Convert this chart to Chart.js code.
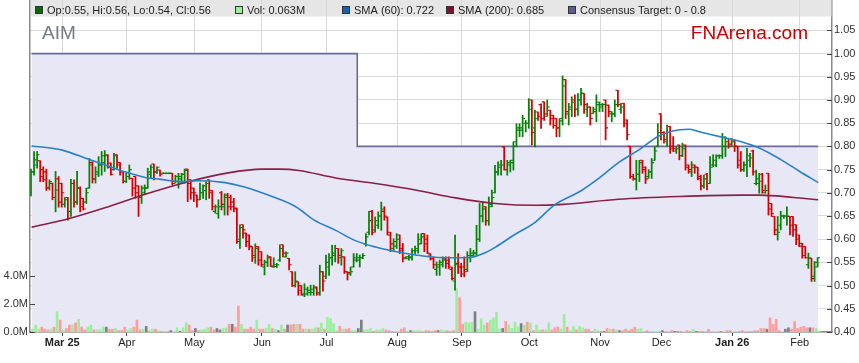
<!DOCTYPE html>
<html>
<head>
<meta charset="utf-8">
<script src="https://cdn.jsdelivr.net/npm/chart.js@4.4.1/dist/chart.umd.min.js"></script>
<style>
  html, body { margin: 0; padding: 0; background: #fff; }
</style>
</head>
<body>
<canvas id="aimChart" width="859" height="363"></canvas>
<script>
// weekday slots from 17 Feb 2025, ticks at first weekday of each month
const startDate = '2025-02-17';
const slotCount = 261;
const monthLabels = ['Mar 25', 'Apr', 'May', 'Jun', 'Jul', 'Aug', 'Sep', 'Oct', 'Nov', 'Dec', 'Jan 26', 'Feb'];

const opens = [
  .700,.745,.760,.769,.750,.745,.712,.720,.690,.730, .720,.675,.690,.660,.720,.680,.710,.688,.680,.710,
  .765,.730,.740,.760,.765,.782,.764,.750,.782,.765, .746,.725,.735,.731,.735,.715,.690,.700,.710,.740,
  .762,.745,.749,.742,.742,.742,.742,.725,.725,.730, .740,.751,.728,.710,.695,.685,.700,.705,.728,.705,
  .660,.655,.700,.670,.695,.690,.680,.667,.600,.631, .613,.609,.584,.560,.584,.573,.540,.550,.562,.540,
  .541,.555,.588,.562,.559,.530,.500,.508,.500,.480, .482,.485,.485,.497,.485,.530,.520,.540,.560,.565,
  .580,.560,.562,.530,.525,.540,.555,.555,.560,.590, .615,.660,.620,.630,.650,.660,.648,.609,.580,.585,
  .609,.580,.558,.558,.560,.575,.575,.590,.612,.600, .566,.558,.535,.540,.545,.558,.555,.535,.510,.548,
  .540,.540,.535,.560,.565,.570,.600,.650,.670,.640, .670,.700,.745,.755,.799,.750,.760,.765,.810,.835,
  .835,.850,.850,.900,.840,.874,.890,.896,.865,.878, .867,.860,.840,.860,.944,.870,.880,.900,.880,.900,
  .914,.880,.885,.871,.875,.890,.885,.900,.889,.870, .870,.921,.880,.893,.857,.800,.735,.730,.740,.770,
  .755,.735,.745,.770,.800,.870,.830,.810,.843,.800, .790,.803,.780,.803,.760,.745,.760,.755,.735,.715,
  .740,.720,.760,.760,.780,.780,.800,.817,.800,.814, .800,.770,.750,.760,.770,.790,.720,.720,.740,.700,
  .742,.677,.649,.610,.630,.650,.650,.649,.649,.631, .609,.591,.584,.545,.559,.520,.550
];
const highs = [
  .751,.789,.789,.769,.756,.751,.728,.721,.746,.735, .721,.690,.690,.729,.728,.746,.713,.688,.710,.774,
  .767,.756,.778,.789,.791,.782,.764,.785,.782,.765, .746,.742,.760,.731,.735,.715,.715,.717,.753,.760,
  .762,.756,.749,.743,.743,.743,.742,.738,.742,.742, .751,.751,.728,.710,.695,.721,.717,.724,.728,.705,
  .674,.685,.703,.698,.699,.695,.688,.667,.631,.631, .613,.609,.584,.590,.584,.573,.555,.566,.562,.560,
  .548,.588,.588,.573,.559,.530,.530,.508,.500,.504, .497,.501,.501,.497,.544,.530,.566,.569,.587,.587,
  .580,.580,.562,.530,.540,.569,.569,.566,.569,.612, .660,.662,.648,.659,.680,.670,.648,.615,.601,.612,
  .609,.591,.562,.565,.580,.585,.612,.612,.612,.609, .569,.562,.551,.555,.562,.562,.562,.540,.609,.569,
  .548,.562,.573,.580,.576,.630,.677,.680,.670,.691, .706,.759,.767,.770,.799,.770,.770,.810,.849,.849,
  .867,.856,.903,.900,.878,.874,.892,.896,.900,.878, .867,.860,.860,.952,.944,.893,.907,.911,.914,.925,
  .914,.893,.885,.885,.911,.896,.893,.900,.889,.875, .900,.921,.893,.893,.857,.800,.740,.770,.770,.770,
  .756,.750,.774,.799,.849,.870,.832,.846,.843,.821, .800,.803,.807,.803,.760,.767,.760,.755,.738,.738,
  .742,.778,.782,.782,.782,.828,.821,.817,.817,.814, .800,.789,.767,.796,.785,.792,.749,.742,.742,.717,
  .742,.677,.649,.649,.660,.652,.670,.649,.649,.631, .609,.591,.584,.570,.559,.552,.560
];
const lows = [
  .693,.738,.753,.724,.724,.705,.706,.685,.659,.669, .669,.669,.641,.649,.669,.675,.659,.663,.677,.710,
  .721,.721,.735,.738,.746,.753,.738,.749,.753,.738, .721,.722,.729,.693,.688,.649,.677,.698,.710,.731,
  .728,.742,.736,.741,.741,.741,.717,.721,.710,.721, .721,.681,.686,.681,.669,.685,.688,.685,.688,.663,
  .656,.645,.663,.652,.652,.663,.659,.591,.580,.602, .584,.577,.552,.548,.544,.541,.523,.541,.541,.539,
  .539,.552,.562,.562,.534,.498,.497,.479,.479,.476, .479,.479,.479,.479,.479,.488,.515,.522,.544,.551,
  .548,.544,.526,.512,.522,.540,.551,.540,.558,.585, .609,.609,.615,.623,.619,.641,.609,.573,.573,.580,
  .569,.551,.558,.555,.555,.568,.570,.590,.573,.569, .555,.537,.522,.522,.540,.537,.537,.512,.490,.526,
  .519,.519,.530,.551,.562,.565,.595,.637,.630,.630, .670,.700,.738,.738,.749,.738,.745,.749,.799,.821,
  .821,.831,.839,.803,.799,.856,.839,.856,.865,.846, .839,.821,.821,.846,.860,.846,.864,.864,.867,.889,
  .871,.864,.846,.871,.853,.875,.875,.814,.864,.853, .864,.885,.871,.842,.814,.731,.727,.706,.724,.742,
  .720,.731,.731,.770,.799,.814,.807,.800,.785,.789, .785,.771,.778,.749,.742,.735,.742,.728,.706,.710,
  .706,.720,.756,.756,.774,.774,.778,.796,.800,.789, .753,.746,.746,.735,.756,.738,.717,.699,.699,.699,
  .652,.649,.609,.598,.620,.645,.630,.609,.606,.588, .584,.559,.559,.537,.509,.509,.540
];
const closes = [
  .745,.771,.782,.735,.728,.710,.724,.690,.706,.680, .700,.685,.645,.720,.680,.710,.670,.665,.700,.760,
  .730,.745,.760,.780,.780,.755,.740,.780,.760,.745, .725,.735,.750,.710,.700,.690,.710,.710,.745,.755,
  .745,.755,.740,.742,.742,.742,.720,.735,.735,.740, .748,.720,.700,.700,.685,.700,.715,.720,.700,.670,
  .670,.670,.675,.690,.670,.670,.665,.595,.625,.620, .595,.585,.565,.580,.555,.545,.550,.560,.542,.545,
  .545,.580,.570,.570,.545,.500,.510,.490,.482,.492, .490,.492,.495,.482,.530,.510,.550,.560,.570,.580,
  .565,.575,.530,.528,.530,.560,.560,.560,.565,.605, .640,.615,.640,.650,.665,.650,.615,.590,.595,.600,
  .575,.560,.562,.562,.575,.580,.600,.605,.590,.570, .558,.545,.545,.550,.555,.548,.540,.515,.545,.540,
  .525,.530,.565,.570,.570,.600,.650,.665,.640,.675, .690,.745,.760,.760,.750,.765,.770,.800,.840,.840,
  .860,.850,.880,.830,.860,.865,.860,.870,.885,.860, .845,.840,.855,.930,.875,.885,.895,.880,.900,.915,
  .890,.885,.860,.880,.895,.890,.890,.840,.875,.870, .890,.890,.885,.850,.825,.735,.730,.740,.765,.750,
  .730,.745,.765,.790,.830,.830,.815,.830,.795,.795, .795,.780,.795,.755,.750,.755,.755,.730,.715,.730,
  .720,.755,.770,.780,.780,.820,.810,.805,.810,.800, .760,.750,.760,.780,.775,.745,.730,.725,.705,.705,
  .665,.655,.620,.615,.650,.650,.650,.630,.620,.600, .585,.565,.560,.560,.515,.540,.560
];
// volume in millions of shares
const volumes = [
  .2,.5,.2,.35,.2,.15,.2,.35,1.45,.85, .15,.25,.5,.5,.65,.9,.35,.15,.35,.5,
  .15,.15,.15,.35,.35,.2,.2,.25,.1,.1, .35,.15,.25,.35,.85,.15,.2,.4,.1,.2,
  .2,.1,.05,.05,0,.1,0,.3,.05,.3, .65,.5,.1,.25,.1,.15,.2,.3,.35,.15,
  .25,.15,.25,.3,.55,.55,.35,1.85,.55,.2, .2,.35,.2,.85,.2,.2,.25,.55,.25,.2,
  .1,.5,.2,.5,.5,.55,.55,.55,.2,.2, .2,.2,.3,.3,.65,.2,1.05,.95,.6,.1,
  .4,.2,.2,.25,.1,.1,.25,.85,.15,.15, .25,.05,.15,.15,.25,.15,.1,.05,.05,.05,
  .2,.3,.05,.1,.1,.08,.1,.05,.1,.1, .05,.1,.1,.15,.1,.1,.05,.1,3.1,2.45,
  .55,.7,.65,.7,1.45,.2,.95,.5,.65,.85, 1.0,1.4,.2,.25,.75,.5,.25,.7,.35,.6,
  .5,.7,.65,.1,.5,.15,.15,.15,.65,.15, .3,.35,.2,1.25,.35,.1,.4,.15,.4,.3,
  .2,.2,.05,.2,.1,.05,.05,.25,.2,.2, .15,.1,.1,.2,.1,.2,.35,.2,.25,.02,
  .1,.05,.05,.02,.05,.1,.03,.05,.1,.05, .02,.05,.02,.1,.05,.2,.05,.05,.05,.05,
  .2,.05,.03,.03,.03,.03,.1,.1,.03,.02, .05,.1,.05,.05,.05,.1,.1,.25,.25,.2,
  1.0,.55,.9,.1,.02,.2,.3,.2,.75,.25, .35,.4,.3,.3,.3,.25,.063
];
// moving averages read at sample slots
const sma60Slots = [0,10,19,24,30,37,42,48,55,63,69,77,86,92,99,105,112,118,125,131,138,143,147,151,157,164,170,179,185,191,198,204,211,214,217,224,231,237,244,250,256];
const sma60Values = [.801,.792,.771,.760,.746,.733,.729,.724,.726,.722,.713,.695,.670,.641,.619,.598,.583,.574,.566,.561,.560,.561,.569,.583,.609,.637,.673,.705,.733,.765,.794,.822,.836,.837,.832,.821,.810,.796,.771,.746,.722];
const sma200Slots = [0,12,25,38,51,64,75,81,87,99,112,125,138,151,164,173,191,211,231,237,248,256];
const sma200Values = [.626,.644,.670,.699,.724,.743,.751,.751,.748,.732,.720,.706,.689,.677,.673,.675,.686,.692,.695,.695,.690,.685];
// consensus target steps
const targetFrom = [0, 106];
const targetValues = [1.00, 0.80];

const upColor = '#078207';
const downColor = '#d40000';
const font = "'Liberation Sans', Arial, sans-serif";

// build weekday labels
const labels = [];
const monthStart = {};
let d = new Date(startDate + 'T12:00:00Z');
let prevMonth = d.getUTCMonth();
let m = 0;
while (labels.length < slotCount) {
  const wd = d.getUTCDay();
  if (wd !== 0 && wd !== 6) {
    if (labels.length > 0 && d.getUTCMonth() !== prevMonth && m < monthLabels.length) {
      monthStart[labels.length] = monthLabels[m++];
    }
    prevMonth = d.getUTCMonth();
    labels.push(d.toISOString().slice(0, 10));
  }
  d.setUTCDate(d.getUTCDate() + 1);
}

const n = closes.length;
const ranges = [], barColors = [], volColors = [], target = [];
for (let i = 0; i < n; i++) {
  ranges.push([lows[i], highs[i]]);
  barColors.push(closes[i] >= opens[i] ? upColor : downColor);
  const prev = i > 0 ? closes[i - 1] : opens[i];
  volColors.push(closes[i] > prev ? '#9af09a' : closes[i] < prev ? '#ff9c9c' : '#808080');
  let t = targetValues[0];
  targetFrom.forEach((f, k) => { if (i >= f) t = targetValues[k]; });
  target.push(t);
}
function sparse(slots, values) {
  const arr = new Array(n).fill(null);
  slots.forEach((s, k) => { arr[s] = values[k]; });
  return arr;
}

// no automatic padding: plot runs from the top of the canvas to the date axis
function noPad(s) {
  s.paddingTop = 0; s.paddingBottom = 0; s.paddingLeft = 0; s.paddingRight = 0;
}

const ohlcTicks = {
  id: 'ohlcTicks',
  afterDatasetDraw(chart, args) {
    if (args.index !== 2) return;
    const ctx = chart.ctx, y = chart.scales.price;
    ctx.save();
    ctx.beginPath();
    ctx.rect(chart.chartArea.left, chart.chartArea.top, chart.chartArea.width, chart.chartArea.height);
    ctx.clip();
    ctx.lineWidth = 1.1;
    args.meta.data.forEach((el, i) => {
      ctx.strokeStyle = barColors[i];
      ctx.beginPath();
      ctx.moveTo(el.x - 2.5, y.getPixelForValue(opens[i]));
      ctx.lineTo(el.x, y.getPixelForValue(opens[i]));
      ctx.moveTo(el.x, y.getPixelForValue(closes[i]));
      ctx.lineTo(el.x + 2.5, y.getPixelForValue(closes[i]));
      ctx.stroke();
    });
    ctx.restore();
  }
};

const decorations = {
  id: 'decorations',
  afterDraw(chart) {
    const ctx = chart.ctx, a = chart.chartArea;
    const price = chart.scales.price, vol = chart.scales.vol;
    ctx.save();
    // inward tick marks
    ctx.strokeStyle = '#444';
    ctx.lineWidth = 1;
    price.ticks.forEach(t => {
      const py = Math.round(price.getPixelForValue(t.value)) + 0.5;
      ctx.beginPath(); ctx.moveTo(a.right - 5, py); ctx.lineTo(a.right, py); ctx.stroke();
    });
    vol.ticks.forEach(t => {
      const py = Math.round(vol.getPixelForValue(t.value)) + 0.5;
      ctx.beginPath(); ctx.moveTo(a.left, py); ctx.lineTo(a.left + 5, py); ctx.stroke();
    });
    // legend band
    ctx.fillStyle = 'rgba(214,214,214,0.62)';
    ctx.fillRect(a.left, 0, a.right - a.left, 16.5);
    const items = [
      { x: 35, color: '#0a6a0a', text: 'Op:0.55, Hi:0.56, Lo:0.54, Cl:0.56' },
      { x: 235, color: '#9af09a', text: 'Vol: 0.063M' },
      { x: 342, color: '#1565a8', text: 'SMA (60): 0.722' },
      { x: 446, color: '#7a1232', text: 'SMA (200): 0.685' },
      { x: 568, color: '#5c5c8c', text: 'Consensus Target: 0 - 0.8' }
    ];
    ctx.font = '11px ' + font;
    ctx.textBaseline = 'alphabetic';
    items.forEach(it => {
      ctx.fillStyle = it.color;
      ctx.fillRect(it.x, 6, 8, 8);
      ctx.strokeStyle = '#333';
      ctx.strokeRect(it.x + 0.5, 6.5, 7, 7);
      ctx.fillStyle = '#222';
      ctx.fillText(it.text, it.x + 12, 14);
    });
    // titles
    ctx.font = '19px ' + font;
    ctx.fillStyle = '#737a82';
    ctx.textAlign = 'left';
    ctx.fillText('AIM', 42, 39);
    ctx.fillStyle = '#cc0000';
    ctx.textAlign = 'right';
    ctx.fillText('FNArena.com', 808, 39);
    ctx.restore();
  }
};

new Chart(document.getElementById('aimChart'), {
  type: 'bar',
  data: {
    labels: labels,
    datasets: [
      {
        type: 'line', label: 'Consensus Target', data: target, yAxisID: 'price',
        stepped: true, borderColor: '#6a6a9c', borderWidth: 1.6, pointRadius: 0,
        fill: 'start', backgroundColor: '#e7e7f6', order: 10
      },
      {
        label: 'Vol', data: volumes, yAxisID: 'vol',
        backgroundColor: volColors, barThickness: 2, order: 9
      },
      {
        label: 'OHLC', data: ranges, yAxisID: 'price',
        backgroundColor: barColors, barThickness: 1.1, order: 8
      },
      {
        type: 'line', label: 'SMA (200)', data: sparse(sma200Slots, sma200Values), yAxisID: 'price',
        spanGaps: true, cubicInterpolationMode: 'monotone', borderColor: '#8a1f45',
        borderWidth: 1.6, pointRadius: 0, order: 2
      },
      {
        type: 'line', label: 'SMA (60)', data: sparse(sma60Slots, sma60Values), yAxisID: 'price',
        spanGaps: true, cubicInterpolationMode: 'monotone', borderColor: '#2a80c4',
        borderWidth: 1.6, pointRadius: 0, order: 1
      }
    ]
  },
  options: {
    responsive: false,
    animation: false,
    layout: { padding: 0 },
    plugins: { legend: { display: false }, tooltip: { enabled: false } },
    scales: {
      x: {
        offset: true,
        grid: { offset: false, color: '#d9d9d9', tickLength: 4, tickColor: '#444' },
        border: { color: '#8a8a8a', width: 1.5 },
        ticks: {
          autoSkip: false, maxRotation: 0, padding: 0, color: '#222',
          font: (c) => ({ family: font, size: 11, weight: (c.tick && /\d/.test(c.tick.label)) ? 'bold' : 'normal' }),
          callback: (v, i) => monthStart[i] !== undefined ? monthStart[i] : null
        },
        afterFit: (s) => { s.height = 31; noPad(s); }
      },
      price: {
        position: 'right', min: 0.40, max: 1.1155,
        grid: { color: '#d9d9d9', drawTicks: false },
        border: { color: '#8a8a8a', width: 1.5 },
        ticks: {
          stepSize: 0.05, includeBounds: false, padding: 2, color: '#333',
          font: { family: font, size: 11 },
          callback: (v) => v.toFixed(2)
        },
        afterBuildTicks: (s) => { s.ticks = s.ticks.filter(t => t.value < 1.06); },
        afterFit: (s) => { s.width = 27; noPad(s); }
      },
      vol: {
        position: 'left', min: 0, max: 23.71,
        grid: { display: false, drawTicks: false },
        border: { color: '#8a8a8a', width: 1.5 },
        ticks: {
          padding: 2, color: '#333', font: { family: font, size: 11 },
          callback: (v) => v.toFixed(1) + 'M'
        },
        afterBuildTicks: (s) => { s.ticks = [0, 2, 4].map(v => ({ value: v })); },
        afterFit: (s) => { s.width = 30; noPad(s); }
      }
    }
  },
  plugins: [ohlcTicks, decorations]
});
</script>
</body>
</html>
